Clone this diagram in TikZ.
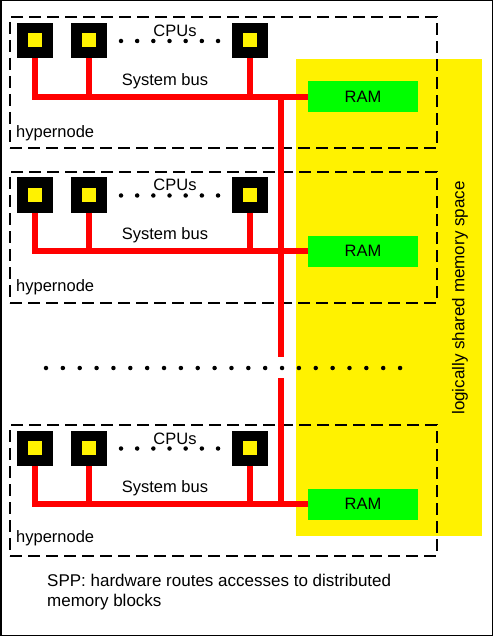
\documentclass[tikz,border=0pt]{standalone}
\usepackage{fontspec}
\setmainfont{Liberation Sans}
\tikzset{
  cpu/.style={fill=black, minimum width=36pt, minimum height=35pt, inner sep=0pt,
    path picture={\fill[yellow] ([shift={(-7pt,-7pt)}]path picture bounding box.center)
      rectangle ([shift={(7pt,7pt)}]path picture bounding box.center);}},
  ram/.style={fill=green, minimum width=110pt, minimum height=31pt, inner sep=0pt,
    font=\fontsize{16.5}{19}\selectfont},
  hyper/.style={draw, line width=2pt, dash pattern=on 12pt off 6pt,
    minimum width=427pt, minimum height=131pt, inner sep=0pt},
  bus/.style={draw=red, line width=6pt},
  lbl/.style={inner sep=0pt, font=\fontsize{16.5}{19}\selectfont},
  dot/.style={circle, fill=black, minimum size=4.5pt, inner sep=0pt},
}
\begin{document}
\begin{tikzpicture}[x=1pt,y=-1pt]
  \useasboundingbox (0,0) rectangle (493,636);
  \draw[line width=1.5pt] (0.75,0.75) rectangle (492.25,635.25);

  % shared memory space
  \fill[yellow] (296,59) rectangle (482,536);
  \node[lbl, rotate=90, font=\fontsize{17}{19}\selectfont] (shared) at (460,298)
    {logically shared memory space};

  % hypernode 1
  \node[hyper] (hn1) at (223.5,82.5) {};
  \node[cpu] (c11) at (35,40.5) {};
  \node[cpu] (c12) at (89,40.5) {};
  \node[cpu] (c13) at (250,40.5) {};
  \node[ram] (ram1) at (363,97) {RAM};
  \node[lbl] (cpus1) at (175,30.5) {CPUs};
  \node[lbl] (sys1) at (165,81) {System bus};
  \node[lbl, anchor=west] (hl1) at (16,133) {hypernode};
  \foreach \i in {0,...,6}
    \node[dot] (d1\i) at ({121+16.17*\i},41) {};

  % hypernode 2
  \node[hyper] (hn2) at (223.5,237.5) {};
  \node[cpu] (c21) at (35,195) {};
  \node[cpu] (c22) at (89,195) {};
  \node[cpu] (c23) at (250,195) {};
  \node[ram] (ram2) at (363,251) {RAM};
  \node[lbl] (cpus2) at (175,185) {CPUs};
  \node[lbl] (sys2) at (165,235.5) {System bus};
  \node[lbl, anchor=west] (hl2) at (16,287) {hypernode};
  \foreach \i in {0,...,6}
    \node[dot] (d2\i) at ({121+16.17*\i},195.5) {};

  % hypernode 3
  \node[hyper] (hn3) at (223.5,490.5) {};
  \node[cpu] (c31) at (35,448) {};
  \node[cpu] (c32) at (89,448) {};
  \node[cpu] (c33) at (250,448) {};
  \node[ram] (ram3) at (363,504) {RAM};
  \node[lbl] (cpus3) at (175,438.5) {CPUs};
  \node[lbl] (sys3) at (165,488.5) {System bus};
  \node[lbl, anchor=west] (hl3) at (16,538) {hypernode};
  \foreach \i in {0,...,6}
    \node[dot] (d3\i) at ({121+16.17*\i},448.5) {};

  % more hypernodes
  \foreach \i in {0,...,21}
    \node[dot] (m\i) at ({46+16.86*\i},368) {};

  % system buses
  \draw[bus] (c11.south) |- (ram1.west);
  \draw[bus] (c12.south) -- (c12.south |- ram1.west);
  \draw[bus] (c13.south) -- (c13.south |- ram1.west);
  \draw[bus] (c21.south) |- (ram2.west);
  \draw[bus] (c22.south) -- (c22.south |- ram2.west);
  \draw[bus] (c23.south) -- (c23.south |- ram2.west);
  \draw[bus] (c31.south) |- (ram3.west);
  \draw[bus] (c32.south) -- (c32.south |- ram3.west);
  \draw[bus] (c33.south) -- (c33.south |- ram3.west);

  % trunk between hypernodes
  \coordinate (top) at (280.5,97);
  \coordinate (gapa) at (280.5,357);
  \coordinate (gapb) at (280.5,378);
  \coordinate (bot) at (280.5,504);
  \draw[bus] (top) -- (gapa);
  \draw[bus] (gapb) -- (bot);

  % caption
  \node[lbl, anchor=west, align=left, font=\fontsize{17}{20}\selectfont] (spp) at (47,592)
    {SPP: hardware routes accesses to distributed\\memory blocks};
\end{tikzpicture}
\end{document}
